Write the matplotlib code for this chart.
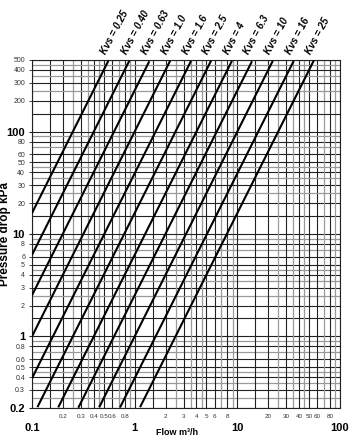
import matplotlib
matplotlib.use("Agg")
import matplotlib.pyplot as plt
import numpy as np

# Data
kvs_values = [0.25, 0.40, 0.63, 1.0, 1.6, 2.5, 4, 6.3, 10, 16, 25]
kvs_labels = ["Kvs = 0.25", "Kvs = 0.40", "Kvs = 0.63", "Kvs = 1.0", "Kvs = 1.6",
              "Kvs = 2.5", "Kvs = 4", "Kvs = 6.3", "Kvs = 10", "Kvs = 16", "Kvs = 25"]
x_major = [0.1, 1, 10, 100]
x_major_labels = ["0.1", "1", "10", "100"]
x_minor = [0.2, 0.3, 0.4, 0.5, 0.6, 0.8, 2, 3, 4, 5, 6, 8, 20, 30, 40, 50, 60, 80]
x_minor_labels = ["0.2", "0.3", "0.4", "0.5", "0.6", "0.8", "2", "3", "4", "5", "6", "8",
                  "20", "30", "40", "50", "60", "80"]
y_major = [0.2, 1, 10, 100]
y_major_labels = ["0.2", "1", "10", "100"]
y_minor = [0.3, 0.4, 0.5, 0.6, 0.8, 2, 3, 4, 5, 6, 8, 20, 30, 40, 50, 60, 80, 200, 300, 400, 500]
y_minor_labels = ["0.3", "0.4", "0.5", "0.6", "0.8", "2", "3", "4", "5", "6", "8",
                  "20", "30", "40", "50", "60", "80", "200", "300", "400", "500"]
grid_dark = [1, 2, 3, 4, 5, 6, 8, 1.5]
grid_light = [2.5, 3.5, 4.5, 7, 9]

xmin, xmax = 0.1, 100
ymin, ymax = 0.2, 500

plt.rcParams['font.family'] = ['Liberation Sans', 'DejaVu Sans']

fig = plt.figure(figsize=(3.52, 4.4), dpi=100)
ax = fig.add_axes([32/352, 1-408/440, 308/352, 348/440])
ax.set_xscale('log')
ax.set_yscale('log')
ax.set_xlim(xmin, xmax)
ax.set_ylim(ymin, ymax)

# grid
decades = [0.1, 1, 10, 100]
for d in decades:
    for m in grid_dark:
        v = d * m
        if xmin <= v <= xmax:
            ax.axvline(v, color='#222222', lw=0.8, zorder=1)
        if ymin <= v <= ymax:
            ax.axhline(v, color='#222222', lw=0.8, zorder=1)
    for m in grid_light:
        v = d * m
        if xmin <= v <= xmax:
            ax.axvline(v, color='#9a9a9a', lw=0.9, zorder=1)
        if ymin <= v <= ymax:
            ax.axhline(v, color='#9a9a9a', lw=0.9, zorder=1)

# Kvs lines: pressure drop kPa = 100 * (Q / Kvs)^2
q = np.logspace(-1, 2, 400)
for k, lab in zip(kvs_values, kvs_labels):
    dp = 100.0 * (q / k) ** 2
    mask = (dp >= ymin * 0.999) & (dp <= ymax * 1.001)
    ax.plot(q[mask], dp[mask], color='black', lw=1.5, zorder=3, solid_capstyle='butt')
    q_top = k * np.sqrt(ymax / 100.0)
    ax.annotate(lab, xy=(q_top, ymax), xytext=(-1, 3), textcoords='offset points',
                rotation=62, rotation_mode='anchor', ha='left', va='bottom',
                fontsize=7, fontweight='bold', fontstyle='italic', annotation_clip=False)

for s in ax.spines.values():
    s.set_color('#222222')
    s.set_linewidth(0.8)

ax.set_xticks(x_major)
ax.set_xticklabels(x_major_labels, fontsize=8, fontweight='bold')
ax.set_xticks(x_minor, minor=True)
ax.set_xticklabels(x_minor_labels, minor=True, fontsize=4.5, color='#333333')
ax.set_yticks(y_major)
ax.set_yticklabels(y_major_labels, fontsize=8, fontweight='bold')
ax.set_yticks(y_minor, minor=True)
ax.set_yticklabels(y_minor_labels, minor=True, fontsize=5, color='#333333')
ax.tick_params(axis='x', which='major', length=0, pad=11)
ax.tick_params(axis='x', which='minor', length=0, pad=4)
ax.tick_params(axis='y', which='major', length=2, pad=3, color='#222222')
ax.tick_params(axis='y', which='minor', length=2, pad=3, color='#222222')

ax.set_xlabel("Flow m³/h", fontsize=6.5, fontweight='bold')
ax.set_ylabel("Pressure drop kPa", fontsize=8.5, fontweight='bold')
ax.yaxis.set_label_coords(-0.068, 0.5)
ax.xaxis.set_label_coords(0.47, -0.058)

fig.savefig("out.png", dpi=100)
